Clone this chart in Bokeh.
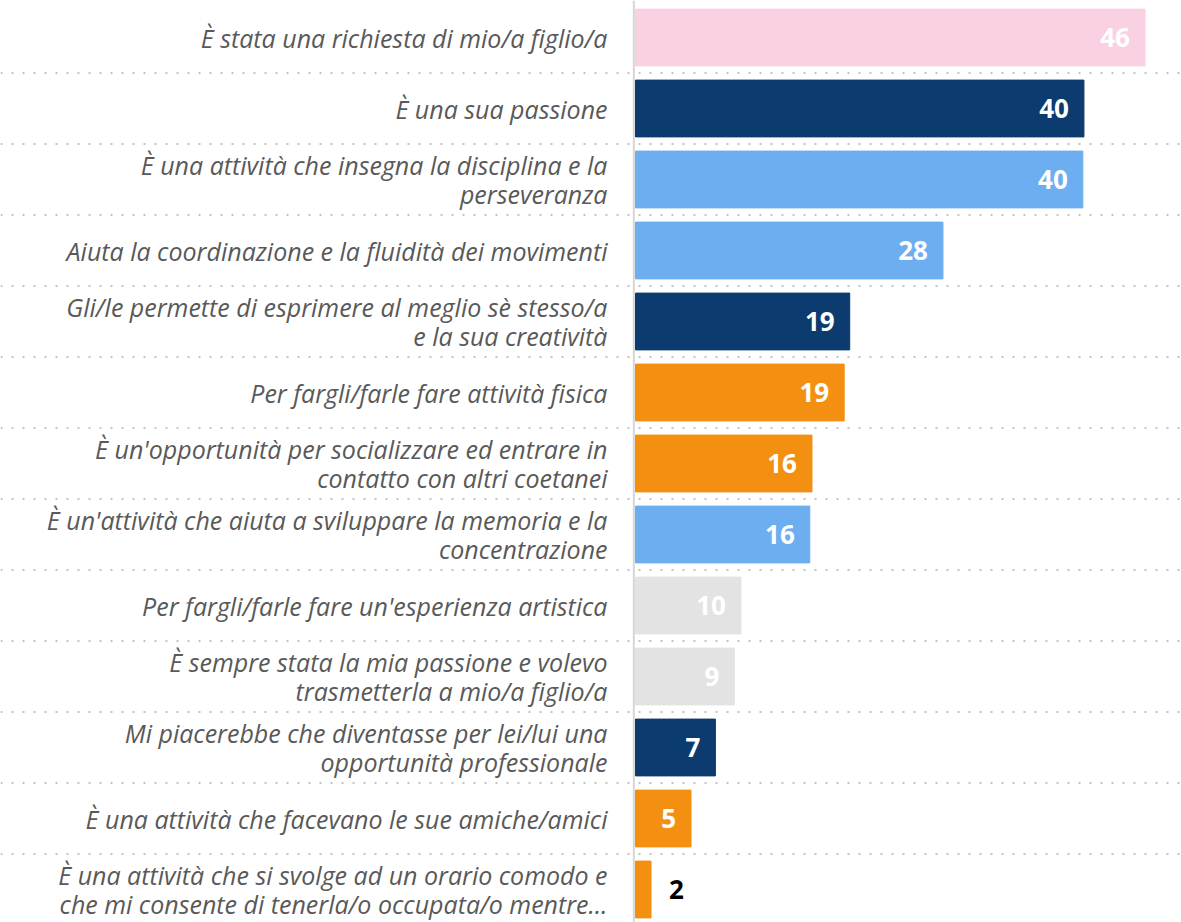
from bokeh.plotting import figure
from bokeh.models import ColumnDataSource, Range1d, Span
from bokeh.core.properties import value
from bokeh.embed import file_html
from bokeh.resources import INLINE

categories = [
    "È stata una richiesta di mio/a figlio/a",
    "È una sua passione",
    "È una attività che insegna la disciplina e la\nperseveranza",
    "Aiuta la coordinazione e la fluidità dei movimenti",
    "Gli/le permette di esprimere al meglio sè stesso/a\ne la sua creatività",
    "Per fargli/farle fare attività fisica",
    "È un'opportunità per socializzare ed entrare in\ncontatto con altri coetanei",
    "È un'attività che aiuta a sviluppare la memoria e la\nconcentrazione",
    "Per fargli/farle fare un'esperienza artistica",
    "È sempre stata la mia passione e volevo\ntrasmetterla a mio/a figlio/a",
    "Mi piacerebbe che diventasse per lei/lui una\nopportunità professionale",
    "È una attività che facevano le sue amiche/amici",
    "È una attività che si svolge ad un orario comodo e\nche mi consente di tenerla/o occupata/o mentre…",
]
values = [45.9, 40.4, 40.3, 27.7, 19.3, 18.8, 15.9, 15.7, 9.5, 8.9, 7.2, 5.0, 1.4]
value_labels = ["46", "40", "40", "28", "19", "19", "16", "16", "10", "9", "7", "5", "2"]
bar_colors = ["#F9D1E2", "#0B3B6F", "#6DAEF1", "#6DAEF1", "#0B3B6F", "#F39012", "#F39012",
              "#6DAEF1", "#E3E3E3", "#E3E3E3", "#0B3B6F", "#F39012", "#F39012"]

n = len(categories)
ypos = list(range(n))
inside = [v >= 3 for v in values]
src = ColumnDataSource(dict(
    y=ypos, v=values, lab=value_labels, cat=categories, color=bar_colors,
    zero=[0] * n,
    lab_color=["white" if i else "black" for i in inside],
    lab_off=[-15 if i else 18 for i in inside],
    lab_align=["right" if i else "left" for i in inside],
))

px_per_unit = 11.1
W, H = 1181, 922
zero_px = 635
row_px = 71.0
top_px = 37
x0 = -zero_px / px_per_unit
x1 = (W - zero_px) / px_per_unit
y_top = -top_px / row_px
y_bot = (H - top_px) / row_px

p = figure(width=W, height=H, output_backend="svg", toolbar_location=None,
           x_range=Range1d(x0, x1), y_range=Range1d(y_bot, y_top),
           min_border=0, outline_line_color=None, background_fill_color="white")
p.axis.visible = False
p.grid.visible = False

# dotted separators between rows
seps = [i + 0.5 for i in range(n - 1)]
p.segment(x0=[x0] * len(seps), x1=[x1] * len(seps), y0=seps, y1=seps,
          line_color="#C4C4C4", line_width=2, line_dash="2 9")

# bars
p.hbar(y="y", left="zero", right="v", height=0.8, color="color", source=src)

# vertical baseline
p.add_layout(Span(location=-0.15, dimension="height", line_color="#D6D6D6", line_width=2))

# category labels
p.text(x="zero", y="y", text="cat", source=src, x_offset=-28,
       text_align="right", text_baseline="middle",
       text_font=value("Open Sans"), text_font_style="italic",
       text_font_size="25px", text_color="#595959", text_line_height=0.85)

# value labels
p.text(x="v", y="y", text="lab", source=src, x_offset="lab_off",
       text_align="lab_align", text_baseline="middle",
       text_font=value("Open Sans"), text_font_style="bold",
       text_font_size="26px", text_color="lab_color")

open("out.html", "w").write(file_html(p, INLINE))
